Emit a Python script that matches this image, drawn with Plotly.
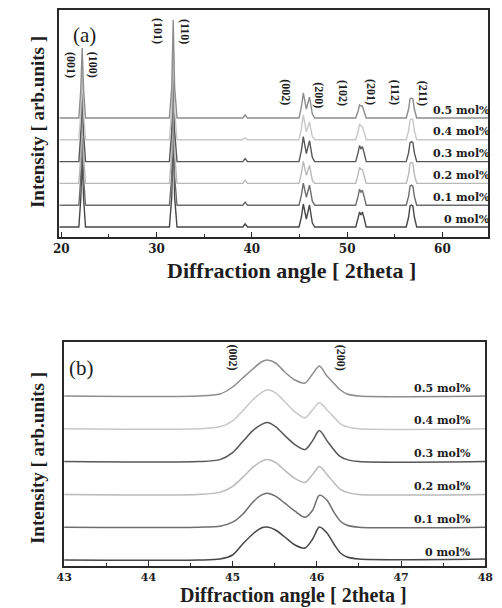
import plotly.graph_objects as go

# ---------------- data ----------------
samples = ["0 mol%", "0.1 mol%", "0.2 mol%", "0.3 mol%", "0.4 mol%", "0.5 mol%"]

# (a) full scan: 2theta sampling points and intensity above each trace's baseline
two_theta_a = [19.8, 21.85, 22.05, 22.2, 22.35, 22.55,
               31.35, 31.6, 31.75, 31.9, 32.15,
               39.05, 39.3, 39.55,
               44.95, 45.2, 45.4, 45.72, 46.05, 46.35, 46.6,
               50.9, 51.15, 51.3, 51.45, 51.6, 51.8, 52.0,
               56.2, 56.45, 56.6, 56.75, 56.9, 57.05, 57.3,
               64.8]
int_a_00 = [0, 0, 28, 70, 28, 0, 0, 30, 98, 30, 0, 0, 3, 0,
            0, 10, 23, 8, 22, 4, 0, 0, 9, 15, 12, 15, 8, 0,
            0, 10, 21, 22, 21, 10, 0, 0]
int_a_01 = [0, 0, 27, 68, 27, 0, 0, 29, 96, 29, 0, 0, 3, 0,
            0, 10, 22, 8, 20, 4, 0, 0, 9, 16, 13, 15, 8, 0,
            0, 9, 19, 20, 19, 9, 0, 0]
int_a_02 = [0, 0, 28, 70, 28, 0, 0, 30, 97, 30, 0, 0, 3, 0,
            0, 10, 22, 8, 18, 3, 0, 0, 9, 16, 14, 14, 7, 0,
            0, 9, 20, 21, 20, 9, 0, 0]
int_a_03 = [0, 0, 28, 69, 28, 0, 0, 31, 98, 31, 0, 0, 3, 0,
            0, 11, 25, 8, 21, 4, 0, 0, 9, 16, 13, 15, 8, 0,
            0, 9, 19, 20, 19, 9, 0, 0]
int_a_04 = [0, 0, 27, 68, 27, 0, 0, 30, 97, 30, 0, 0, 2, 0,
            0, 11, 25, 8, 18, 3, 0, 0, 8, 16, 14, 13, 7, 0,
            0, 9, 20, 21, 20, 9, 0, 0]
int_a_05 = [0, 0, 28, 70, 28, 0, 0, 31, 98, 31, 0, 0, 3, 0,
            0, 11, 25, 9, 21, 4, 0, 0, 7, 13, 12, 12, 6, 0,
            0, 9, 19, 20, 19, 9, 0, 0]

# (b) zoom on the (002)/(200) doublet
two_theta_b = [43.0, 44.6, 44.85, 45.0, 45.12, 45.24, 45.34, 45.41, 45.51,
               45.62, 45.74, 45.86, 45.95, 46.03, 46.12, 46.21, 46.28, 46.36,
               46.5, 48.0]
int_b_00 = [0, 0, 1, 5, 16, 26, 32, 33, 30, 23, 15, 12, 21, 33, 27, 15, 7, 3, 1, 1]
int_b_01 = [0, 0, 1, 5, 13, 25, 32, 34, 31, 24, 16, 10, 17, 32, 27, 14, 6, 2, 0, 0]
int_b_02 = [0, 0, 2, 8, 17, 27, 33, 35, 32, 24, 16, 12, 20, 28, 20, 11, 5, 2, 0, 0]
int_b_03 = [0, 0, 2, 9, 20, 31, 37, 39, 35, 26, 17, 12, 21, 31, 21, 11, 5, 2, 0, 0]
int_b_04 = [0, 0, 2, 8, 18, 29, 36, 39, 36, 27, 17, 11, 19, 26, 19, 11, 5, 2, 0, 0]
int_b_05 = [0, 0, 2, 9, 18, 27, 34, 36, 33, 24, 16, 13, 22, 30, 20, 12, 6, 2, 0, 0]

hkl_a = ["(001)", "(100)", "(101)", "(110)", "(002)", "(200)", "(102)", "(201)", "(112)", "(211)"]
hkl_b = ["(002)", "(200)"]

# ---------------- styling ----------------
W, H = 502, 608
colors = ["#474747", "#6e6e6e", "#b9b9b9", "#575757", "#c8c8c8", "#8d8d8d"]
step_a = 21.8
step_b = 32.8
ink = "#1e1e1e"
serif = "Liberation Serif"
bold_num = "DejaVu Serif"

int_a = [int_a_00, int_a_01, int_a_02, int_a_03, int_a_04, int_a_05]
int_b = [int_b_00, int_b_01, int_b_02, int_b_03, int_b_04, int_b_05]

fig = go.Figure()

for i, name in enumerate(samples):
    fig.add_trace(go.Scatter(
        x=two_theta_a, y=[v + i * step_a for v in int_a[i]],
        mode="lines", line=dict(color=colors[i], width=1.4),
        name=name, showlegend=False, xaxis="x", yaxis="y"))
for i, name in enumerate(samples):
    fig.add_trace(go.Scatter(
        x=two_theta_b, y=[v + i * step_b for v in int_b[i]],
        mode="lines", line=dict(color=colors[i], width=1.5, shape="spline", smoothing=0.8),
        name=name, showlegend=False, xaxis="x2", yaxis="y2"))


def px_x(p):
    return p / W


def px_y(p):
    return 1 - p / H


ann = []


def note(**kw):
    kw.setdefault("xanchor", "center")
    kw.setdefault("yanchor", "middle")
    kw.setdefault("showarrow", False)
    ann.append(kw)


# sample labels
for i, name in enumerate(samples):
    note(text=name, xref="paper", x=px_x(500), xanchor="right",
         yref="y", y=i * step_a + 8,
         font=dict(family=bold_num, size=11, color=ink, weight="bold"))
    note(text=name, xref="x2", x=47.85, xanchor="right",
         yref="y2", y=i * step_b + 8,
         font=dict(family=bold_num, size=11, color=ink, weight="bold"))

# reflection labels
pos_a = [(21.02, 162), (23.36, 162), (30.16, 196), (33.0, 196), (43.57, 135),
         (47.02, 132), (49.56, 134), (52.51, 135), (55.05, 135), (57.99, 134)]
for t, (xx, yy) in zip(hkl_a, pos_a):
    note(text=t, xref="x", x=xx, yref="y", y=yy, textangle=90,
         font=dict(family=serif, size=12, color=ink, weight="bold"))
pos_b = [(45.01, 202), (46.29, 202)]
for t, (xx, yy) in zip(hkl_b, pos_b):
    note(text=t, xref="x2", x=xx, yref="y2", y=yy, textangle=90,
         font=dict(family=serif, size=12, color=ink, weight="bold"))

# panel tags
note(text="(a)", xref="paper", x=px_x(79), yref="paper", y=px_y(35),
     font=dict(family=serif, size=21, color=ink))
note(text="(b)", xref="paper", x=px_x(76), yref="paper", y=px_y(368),
     font=dict(family=serif, size=21, color=ink))

# axis titles
note(text="Diffraction angle [ 2theta ]", xref="paper", x=px_x(293),
     yref="paper", y=px_y(270),
     font=dict(family=serif, size=22, color=ink, weight="bold"))
note(text="Diffraction angle [ 2theta ]", xref="paper", x=px_x(295),
     yref="paper", y=0, yanchor="bottom", borderpad=0,
     font=dict(family=serif, size=20, color=ink, weight="bold"))
for yc in (122, 458):
    note(text="Intensity [ arb.units ]", xref="paper", x=px_x(30),
         yref="paper", y=px_y(yc), textangle=-90,
         font=dict(family=serif, size=19, color=ink, weight="bold"))

frame = dict(showline=True, linecolor="#2a2a2a", linewidth=1.6, mirror=True,
             showgrid=False, zeroline=False)
tickfont = dict(family=bold_num, size=12, color=ink, weight="bold")
tickfont_b = dict(family=bold_num, size=11, color=ink, weight="bold")

fig.update_layout(
    width=W, height=H,
    margin=dict(l=0, r=0, t=0, b=0),
    paper_bgcolor="white", plot_bgcolor="white",
    showlegend=False,
    annotations=ann,
    xaxis=dict(domain=[px_x(53), px_x(496)], range=[19.8, 64.8], anchor="y",
               tickvals=[20, 30, 40, 50, 60], ticks="inside", ticklen=5, tickwidth=1.4,
               tickcolor="#2a2a2a", tickfont=tickfont,
               minor=dict(tickvals=[25, 35, 45, 55], ticks="inside", ticklen=3,
                          tickwidth=1.2, tickcolor="#2a2a2a"),
               **frame),
    yaxis=dict(domain=[px_y(237), px_y(10)], range=[-10, 217], anchor="x",
               showticklabels=False, ticks="", **frame),
    xaxis2=dict(domain=[px_x(58), px_x(493)], range=[43, 48], anchor="y2",
                tickvals=[43, 44, 45, 46, 47, 48], ticks="inside", ticklen=5, tickwidth=1.4,
                tickcolor="#2a2a2a", tickfont=tickfont_b,
                minor=dict(tickvals=[43.5, 44.5, 45.5, 46.5, 47.5], ticks="inside",
                           ticklen=3, tickwidth=1.2, tickcolor="#2a2a2a"),
                **frame),
    yaxis2=dict(domain=[px_y(566), px_y(342)], range=[-6, 218], anchor="x2",
                showticklabels=False, ticks="", **frame),
)

fig.write_html("out.html")
